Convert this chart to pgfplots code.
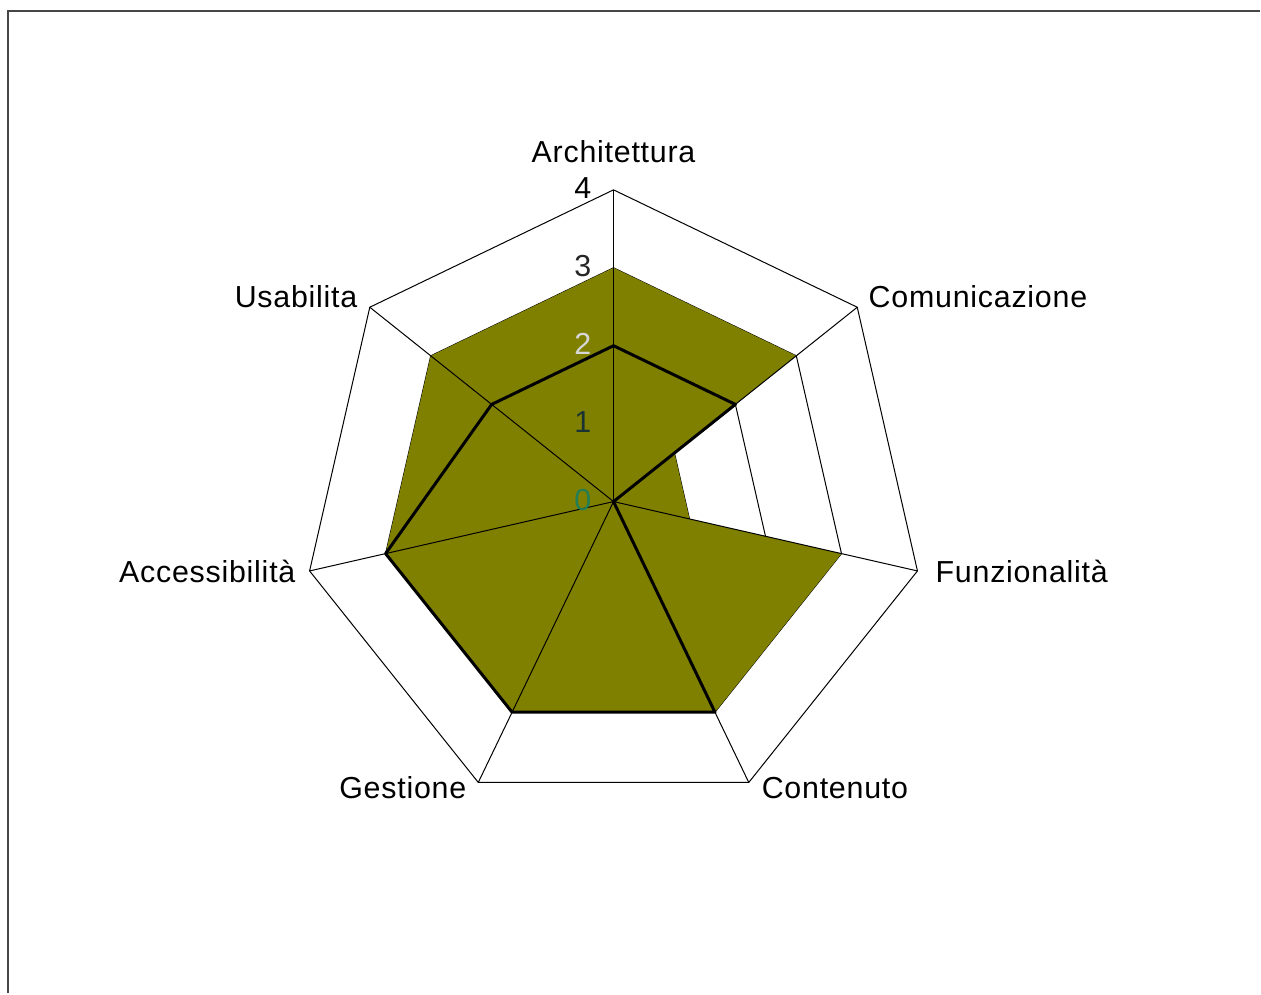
\documentclass[border=0pt]{standalone}
\usepackage{pgfplots}
\pgfplotsset{compat=1.18}
\usepackage{fontspec}
\setmainfont{Liberation Sans}[LetterSpace=2.5]
\definecolor{olivexl}{RGB}{128,128,0}
\definecolor{framec}{RGB}{70,70,70}
\definecolor{tickzero}{RGB}{35,125,85}
\definecolor{tickone}{RGB}{25,50,50}
\definecolor{ticktwo}{RGB}{215,215,215}
\tikzset{lab/.style={font=\fontsize{15.2}{18}\selectfont, inner sep=0pt}}
\begin{document}
\begin{tikzpicture}
\begin{axis}[
  scale only axis, width=630.5pt, height=497pt,
  xmin=-7.872, xmax=8.295, ymin=-6.308, ymax=6.436,
  axis line style={draw=none}, xtick=\empty, ytick=\empty,
  clip=false,
]
% rings (beneath fill)
\addplot[black, line width=0.5pt, data cs=polar, mark=none] coordinates {(90,1) (38.5714,1) (-12.8571,1) (-64.2857,1) (-115.7143,1) (-167.1429,1) (141.4286,1) (90,1)};
\addplot[black, line width=0.5pt, data cs=polar, mark=none] coordinates {(90,2) (38.5714,2) (-12.8571,2) (-64.2857,2) (-115.7143,2) (-167.1429,2) (141.4286,2) (90,2)};
\addplot[black, line width=0.5pt, data cs=polar, mark=none] coordinates {(90,3) (38.5714,3) (-12.8571,3) (-64.2857,3) (-115.7143,3) (-167.1429,3) (141.4286,3) (90,3)};
\addplot[black, line width=0.5pt, data cs=polar, mark=none] coordinates {(90,4) (38.5714,4) (-12.8571,4) (-64.2857,4) (-115.7143,4) (-167.1429,4) (141.4286,4) (90,4)};
% series 1 fill
\addplot[fill=olivexl, draw=none, data cs=polar, mark=none] coordinates {(90,3) (38.5714,3) (38.5714,1) (-12.8571,1) (-12.8571,3) (-64.2857,3) (-115.7143,3) (-167.1429,3) (141.4286,3) (90,3)};
% spokes
\addplot[black, line width=0.5pt, data cs=polar, mark=none] coordinates {(90,0) (90,4)};
\addplot[black, line width=0.5pt, data cs=polar, mark=none] coordinates {(38.5714,0) (38.5714,4)};
\addplot[black, line width=0.5pt, data cs=polar, mark=none] coordinates {(-12.8571,0) (-12.8571,4)};
\addplot[black, line width=0.5pt, data cs=polar, mark=none] coordinates {(-64.2857,0) (-64.2857,4)};
\addplot[black, line width=0.5pt, data cs=polar, mark=none] coordinates {(-115.7143,0) (-115.7143,4)};
\addplot[black, line width=0.5pt, data cs=polar, mark=none] coordinates {(-167.1429,0) (-167.1429,4)};
\addplot[black, line width=0.5pt, data cs=polar, mark=none] coordinates {(141.4286,0) (141.4286,4)};
% series 2 line
\addplot[black, line width=1.5pt, line join=round, data cs=polar, mark=none] coordinates {(90,2) (38.5714,2) (0,0) (-64.2857,3) (-115.7143,3) (-167.1429,3) (141.4286,2) (90,2)};
% tick labels
\node[lab, anchor=base east, text=black] at (axis cs:-0.28,3.89) {4};
\node[lab, anchor=base east, text=black!85] at (axis cs:-0.28,2.89) {3};
\node[lab, anchor=base east, text=ticktwo] at (axis cs:-0.28,1.89) {2};
\node[lab, anchor=base east, text=tickone] at (axis cs:-0.28,0.89) {1};
\node[lab, anchor=base east, text=tickzero] at (axis cs:-0.28,-0.11) {0};
% category labels
\node[lab, anchor=base] at (axis cs:0,4.346) {Architettura};
\node[lab, anchor=base west] at (axis cs:3.269,2.487) {Comunicazione};
\node[lab, anchor=base west] at (axis cs:4.128,-1.038) {Funzionalità};
\node[lab, anchor=base west] at (axis cs:1.897,-3.808) {Contenuto};
\node[lab, anchor=base east] at (axis cs:-1.885,-3.808) {Gestione};
\node[lab, anchor=base east] at (axis cs:-4.077,-1.038) {Accessibilità};
\node[lab, anchor=base east] at (axis cs:-3.282,2.487) {Usabilita};
% frame
\draw[framec, line width=1pt] (axis cs:-7.769,-6.308) -- (axis cs:-7.769,6.295) -- (axis cs:8.295,6.295);
\end{axis}
\end{tikzpicture}
\end{document}
